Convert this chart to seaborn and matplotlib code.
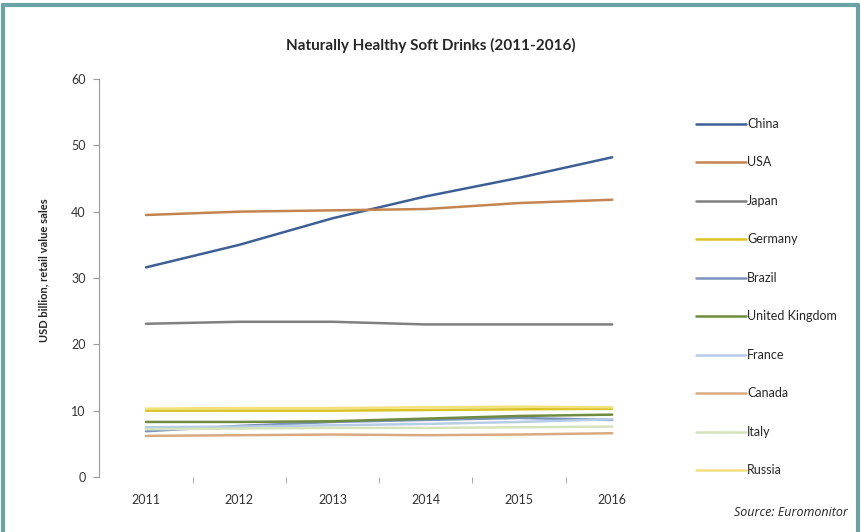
import numpy as np
import pandas as pd
import matplotlib
matplotlib.use("Agg")
import matplotlib.pyplot as plt
import seaborn as sns

# data (USD billion)
years = ["2011", "2012", "2013", "2014", "2015", "2016"]
countries = ["China", "USA", "Japan", "Germany", "Brazil", "United Kingdom",
             "France", "Canada", "Italy", "Russia"]
china = [31.6, 35.0, 39.0, 42.3, 45.1, 48.2]
usa = [39.5, 40.0, 40.2, 40.4, 41.3, 41.8]
japan = [23.1, 23.4, 23.4, 23.0, 23.0, 23.0]
germany = [10.0, 10.0, 10.0, 10.1, 10.2, 10.3]
brazil = [6.9, 7.7, 8.3, 8.6, 8.9, 8.6]
uk = [8.3, 8.3, 8.4, 8.8, 9.2, 9.4]
france = [7.5, 7.6, 7.8, 8.0, 8.3, 8.7]
canada = [6.2, 6.3, 6.4, 6.3, 6.4, 6.6]
italy = [7.2, 7.3, 7.4, 7.4, 7.5, 7.6]
russia = [10.3, 10.4, 10.4, 10.5, 10.6, 10.5]

colors = ["#3d5f95", "#c4844f", "#808080", "#d8c321", "#7a93bb",
          "#6f8b3f", "#b7cce6", "#d9aa80", "#d5e3bb", "#f3e07c"]

series = [china, usa, japan, germany, brazil, uk, france, canada, italy, russia]
rows = []
for name, vals in zip(countries, series):
    for i, v in enumerate(vals):
        rows.append({"year": i, "value": v, "country": name})
df = pd.DataFrame(rows)

sns.set_style("white")
plt.rcParams["font.family"] = ["Lato", "DejaVu Sans"]

fig = plt.figure(figsize=(8.62, 5.32), dpi=100)
ax = fig.add_axes([0.1153, 0.1034, 0.649, 0.7481])

sns.lineplot(data=df, x="year", y="value", hue="country", hue_order=countries,
             palette=dict(zip(countries, colors)), linewidth=1.8, ax=ax)

ax.set_xlim(-0.5, 5.5)
ax.set_ylim(0, 60)
ax.set_xticks(range(len(years)))
ax.set_xticklabels(years)
ax.set_xticks(np.arange(0.5, 5, 1), minor=True)
ax.set_yticks(range(0, 61, 10))
ax.tick_params(axis="x", which="major", length=0, pad=12, labelsize=9, labelcolor="#333333")
ax.tick_params(axis="x", which="minor", length=4, color="#999999", direction="out", bottom=True)
ax.tick_params(axis="y", length=4, color="#999999", direction="out", left=True,
               labelsize=9, labelcolor="#333333", pad=6)
for s in ["top", "right", "bottom"]:
    ax.spines[s].set_visible(False)
ax.spines["left"].set_color("#999999")
ax.spines["left"].set_linewidth(0.8)

ax.set_xlabel("")
ax.set_ylabel("USD billion, retail value sales", fontsize=8, fontweight="bold")
ax.yaxis.set_label_coords(-0.09, 0.52)

ax.legend(loc="upper left", bbox_to_anchor=(0.80, 0.79), bbox_transform=fig.transFigure,
          frameon=False, fontsize=9, handlelength=4.0, handletextpad=0.1,
          labelspacing=2.12, borderpad=0)

fig.text(0.5, 0.915, "Naturally Healthy Soft Drinks (2011-2016)", ha="center", va="center",
         fontsize=11, fontweight="bold")
fig.text(0.984, 0.037, "Source: Euromonitor", ha="right", va="center",
         fontsize=9, style="italic", family=["Open Sans", "DejaVu Sans"])

# teal frame around the picture
frame_color = "#6aa3a3"
fig.add_artist(plt.Line2D([0.003, 0.003], [0, 0.99], transform=fig.transFigure,
                          color=frame_color, linewidth=3))
fig.add_artist(plt.Line2D([0.003, 0.995], [0.99, 0.99], transform=fig.transFigure,
                          color=frame_color, linewidth=3))
fig.add_artist(plt.Line2D([0.995, 0.995], [0, 0.99], transform=fig.transFigure,
                          color=frame_color, linewidth=3))

fig.savefig("out.png", dpi=100)
